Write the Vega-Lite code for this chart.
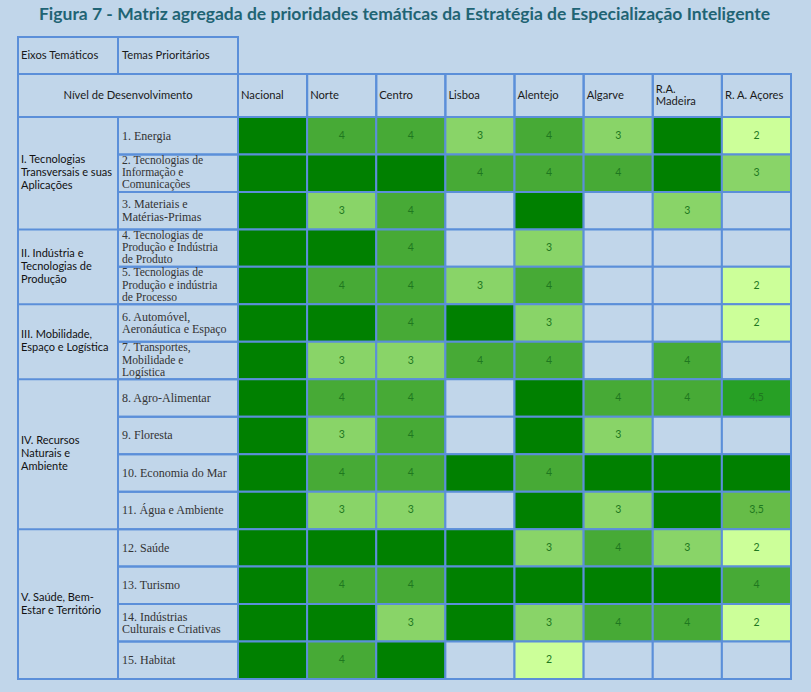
{
  "$schema": "https://vega.github.io/schema/vega-lite/v6.json",
  "background": "#c1d6ea",
  "padding": {"left": 16, "top": 5, "right": 22, "bottom": 12},
  "title": {"text": "Figura 7 - Matriz agregada de prioridades temáticas da Estratégia de Especialização Inteligente", "font": "Lato", "fontSize": 17.5, "fontWeight": "bold", "color": "#1f6474", "anchor": "middle", "offset": 13},
  "config": {"view": {"stroke": "#5b8fd9", "strokeWidth": 2}, "concat": {"spacing": 0}},
  "spacing": 0,
  "bounds": "flush",
  "columns": 3,
  "datasets": {
    "temas": [
      {"n": 1, "tema": "1. Energia", "eixo": "I. Tecnologias\nTransversais e suas\nAplicações"},
      {"n": 2, "tema": "2. Tecnologias de\nInformação e\nComunicações", "eixo": "I. Tecnologias\nTransversais e suas\nAplicações"},
      {"n": 3, "tema": "3. Materiais e\nMatérias-Primas", "eixo": "I. Tecnologias\nTransversais e suas\nAplicações"},
      {"n": 4, "tema": "4. Tecnologias de\nProdução e Indústria\nde Produto", "eixo": "II. Indústria e\nTecnologias de\nProdução"},
      {"n": 5, "tema": "5. Tecnologias de\nProdução e indústria\nde Processo", "eixo": "II. Indústria e\nTecnologias de\nProdução"},
      {"n": 6, "tema": "6. Automóvel,\nAeronáutica e Espaço", "eixo": "III. Mobilidade,\nEspaço e Logística"},
      {"n": 7, "tema": "7. Transportes,\nMobilidade e\nLogística", "eixo": "III. Mobilidade,\nEspaço e Logística"},
      {"n": 8, "tema": "8. Agro-Alimentar", "eixo": "IV. Recursos\nNaturais e\nAmbiente"},
      {"n": 9, "tema": "9. Floresta", "eixo": "IV. Recursos\nNaturais e\nAmbiente"},
      {"n": 10, "tema": "10. Economia do Mar", "eixo": "IV. Recursos\nNaturais e\nAmbiente"},
      {"n": 11, "tema": "11. Água e Ambiente", "eixo": "IV. Recursos\nNaturais e\nAmbiente"},
      {"n": 12, "tema": "12. Saúde", "eixo": "V. Saúde, Bem-\nEstar e Território"},
      {"n": 13, "tema": "13. Turismo", "eixo": "V. Saúde, Bem-\nEstar e Território"},
      {"n": 14, "tema": "14. Indústrias\nCulturais e Criativas", "eixo": "V. Saúde, Bem-\nEstar e Território"},
      {"n": 15, "tema": "15. Habitat", "eixo": "V. Saúde, Bem-\nEstar e Território"}
    ],
    "regioes": [
      {"r": "Nacional", "lbl": "Nacional"},
      {"r": "Norte", "lbl": "Norte"},
      {"r": "Centro", "lbl": "Centro"},
      {"r": "Lisboa", "lbl": "Lisboa"},
      {"r": "Alentejo", "lbl": "Alentejo"},
      {"r": "Algarve", "lbl": "Algarve"},
      {"r": "R.A. Madeira", "lbl": "R.A.\nMadeira"},
      {"r": "R. A. Açores", "lbl": "R. A. Açores"}
    ],
    "cells": [
      {"t": 1, "r": "Nacional", "v": "5"}, {"t": 1, "r": "Norte", "v": "4"}, {"t": 1, "r": "Centro", "v": "4"}, {"t": 1, "r": "Lisboa", "v": "3"}, {"t": 1, "r": "Alentejo", "v": "4"}, {"t": 1, "r": "Algarve", "v": "3"}, {"t": 1, "r": "R.A. Madeira", "v": "5"}, {"t": 1, "r": "R. A. Açores", "v": "2"},
      {"t": 2, "r": "Nacional", "v": "5"}, {"t": 2, "r": "Norte", "v": "5"}, {"t": 2, "r": "Centro", "v": "5"}, {"t": 2, "r": "Lisboa", "v": "4"}, {"t": 2, "r": "Alentejo", "v": "4"}, {"t": 2, "r": "Algarve", "v": "4"}, {"t": 2, "r": "R.A. Madeira", "v": "5"}, {"t": 2, "r": "R. A. Açores", "v": "3"},
      {"t": 3, "r": "Nacional", "v": "5"}, {"t": 3, "r": "Norte", "v": "3"}, {"t": 3, "r": "Centro", "v": "4"}, {"t": 3, "r": "Lisboa", "v": ""}, {"t": 3, "r": "Alentejo", "v": "5"}, {"t": 3, "r": "Algarve", "v": ""}, {"t": 3, "r": "R.A. Madeira", "v": "3"}, {"t": 3, "r": "R. A. Açores", "v": ""},
      {"t": 4, "r": "Nacional", "v": "5"}, {"t": 4, "r": "Norte", "v": "5"}, {"t": 4, "r": "Centro", "v": "4"}, {"t": 4, "r": "Lisboa", "v": ""}, {"t": 4, "r": "Alentejo", "v": "3"}, {"t": 4, "r": "Algarve", "v": ""}, {"t": 4, "r": "R.A. Madeira", "v": ""}, {"t": 4, "r": "R. A. Açores", "v": ""},
      {"t": 5, "r": "Nacional", "v": "5"}, {"t": 5, "r": "Norte", "v": "4"}, {"t": 5, "r": "Centro", "v": "4"}, {"t": 5, "r": "Lisboa", "v": "3"}, {"t": 5, "r": "Alentejo", "v": "4"}, {"t": 5, "r": "Algarve", "v": ""}, {"t": 5, "r": "R.A. Madeira", "v": ""}, {"t": 5, "r": "R. A. Açores", "v": "2"},
      {"t": 6, "r": "Nacional", "v": "5"}, {"t": 6, "r": "Norte", "v": "5"}, {"t": 6, "r": "Centro", "v": "4"}, {"t": 6, "r": "Lisboa", "v": "5"}, {"t": 6, "r": "Alentejo", "v": "3"}, {"t": 6, "r": "Algarve", "v": ""}, {"t": 6, "r": "R.A. Madeira", "v": ""}, {"t": 6, "r": "R. A. Açores", "v": "2"},
      {"t": 7, "r": "Nacional", "v": "5"}, {"t": 7, "r": "Norte", "v": "3"}, {"t": 7, "r": "Centro", "v": "3"}, {"t": 7, "r": "Lisboa", "v": "4"}, {"t": 7, "r": "Alentejo", "v": "4"}, {"t": 7, "r": "Algarve", "v": ""}, {"t": 7, "r": "R.A. Madeira", "v": "4"}, {"t": 7, "r": "R. A. Açores", "v": ""},
      {"t": 8, "r": "Nacional", "v": "5"}, {"t": 8, "r": "Norte", "v": "4"}, {"t": 8, "r": "Centro", "v": "4"}, {"t": 8, "r": "Lisboa", "v": ""}, {"t": 8, "r": "Alentejo", "v": "5"}, {"t": 8, "r": "Algarve", "v": "4"}, {"t": 8, "r": "R.A. Madeira", "v": "4"}, {"t": 8, "r": "R. A. Açores", "v": "4,5"},
      {"t": 9, "r": "Nacional", "v": "5"}, {"t": 9, "r": "Norte", "v": "3"}, {"t": 9, "r": "Centro", "v": "4"}, {"t": 9, "r": "Lisboa", "v": ""}, {"t": 9, "r": "Alentejo", "v": "5"}, {"t": 9, "r": "Algarve", "v": "3"}, {"t": 9, "r": "R.A. Madeira", "v": ""}, {"t": 9, "r": "R. A. Açores", "v": ""},
      {"t": 10, "r": "Nacional", "v": "5"}, {"t": 10, "r": "Norte", "v": "4"}, {"t": 10, "r": "Centro", "v": "4"}, {"t": 10, "r": "Lisboa", "v": "5"}, {"t": 10, "r": "Alentejo", "v": "4"}, {"t": 10, "r": "Algarve", "v": "5"}, {"t": 10, "r": "R.A. Madeira", "v": "5"}, {"t": 10, "r": "R. A. Açores", "v": "5"},
      {"t": 11, "r": "Nacional", "v": "5"}, {"t": 11, "r": "Norte", "v": "3"}, {"t": 11, "r": "Centro", "v": "3"}, {"t": 11, "r": "Lisboa", "v": ""}, {"t": 11, "r": "Alentejo", "v": "5"}, {"t": 11, "r": "Algarve", "v": "3"}, {"t": 11, "r": "R.A. Madeira", "v": "5"}, {"t": 11, "r": "R. A. Açores", "v": "3,5"},
      {"t": 12, "r": "Nacional", "v": "5"}, {"t": 12, "r": "Norte", "v": "5"}, {"t": 12, "r": "Centro", "v": "5"}, {"t": 12, "r": "Lisboa", "v": "5"}, {"t": 12, "r": "Alentejo", "v": "3"}, {"t": 12, "r": "Algarve", "v": "4"}, {"t": 12, "r": "R.A. Madeira", "v": "3"}, {"t": 12, "r": "R. A. Açores", "v": "2"},
      {"t": 13, "r": "Nacional", "v": "5"}, {"t": 13, "r": "Norte", "v": "4"}, {"t": 13, "r": "Centro", "v": "4"}, {"t": 13, "r": "Lisboa", "v": "5"}, {"t": 13, "r": "Alentejo", "v": "5"}, {"t": 13, "r": "Algarve", "v": "5"}, {"t": 13, "r": "R.A. Madeira", "v": "5"}, {"t": 13, "r": "R. A. Açores", "v": "4"},
      {"t": 14, "r": "Nacional", "v": "5"}, {"t": 14, "r": "Norte", "v": "5"}, {"t": 14, "r": "Centro", "v": "3"}, {"t": 14, "r": "Lisboa", "v": "5"}, {"t": 14, "r": "Alentejo", "v": "3"}, {"t": 14, "r": "Algarve", "v": "4"}, {"t": 14, "r": "R.A. Madeira", "v": "4"}, {"t": 14, "r": "R. A. Açores", "v": "2"},
      {"t": 15, "r": "Nacional", "v": "5"}, {"t": 15, "r": "Norte", "v": "4"}, {"t": 15, "r": "Centro", "v": "5"}, {"t": 15, "r": "Lisboa", "v": ""}, {"t": 15, "r": "Alentejo", "v": "2"}, {"t": 15, "r": "Algarve", "v": ""}, {"t": 15, "r": "R.A. Madeira", "v": ""}, {"t": 15, "r": "R. A. Açores", "v": ""}
    ]
  },
  "concat": [
    {
      "width": 100, "height": 37,
      "data": {"values": [{"h": "Eixos Temáticos"}]},
      "mark": {"type": "text", "align": "left", "dx": 3, "font": "Lato", "fontSize": 11.2, "color": "#1a1a1a"},
      "encoding": {"text": {"field": "h"}, "x": {"datum": 0, "type": "quantitative", "scale": {"domain": [0, 1]}, "axis": null}}
    },
    {
      "width": 120, "height": 37,
      "data": {"values": [{"h": "Temas Prioritários"}]},
      "mark": {"type": "text", "align": "left", "dx": 4, "font": "Lato", "fontSize": 11.2, "color": "#1a1a1a"},
      "encoding": {"text": {"field": "h"}, "x": {"datum": 0, "type": "quantitative", "scale": {"domain": [0, 1]}, "axis": null}}
    },
    {
      "width": 553, "height": 37,
      "data": {"values": [{"h": ""}]},
      "mark": {"type": "text"},
      "encoding": {"text": {"field": "h"}}
    },
    {
      "width": 100, "height": 43,
      "view": {"stroke": null},
      "data": {"values": [{"h": "Nível de Desenvolvimento"}]},
      "layer": [
        {
          "mark": {"type": "rect", "fill": "transparent", "stroke": "#5b8fd9", "strokeWidth": 2},
          "encoding": {
            "x": {"datum": 0, "type": "quantitative", "scale": {"domain": [0, 1]}, "axis": null},
            "x2": {"datum": 2.2}
          }
        },
        {
          "mark": {"type": "text", "align": "center", "baseline": "middle", "font": "Lato", "fontSize": 11.2, "color": "#1a1a1a"},
          "encoding": {
            "x": {"datum": 1.1, "type": "quantitative", "axis": null},
            "text": {"field": "h"}
          }
        }
      ]
    },
    {
      "width": 120, "height": 43,
      "view": {"stroke": null},
      "data": {"values": [{"h": ""}]},
      "mark": {"type": "text"},
      "encoding": {"text": {"field": "h"}}
    },
    {
      "width": 553, "height": 43,
      "data": {"name": "regioes"},
      "layer": [
        {
          "mark": {"type": "rect", "fill": "transparent", "stroke": "#5b8fd9", "strokeWidth": 2},
          "encoding": {
            "x": {"field": "r", "type": "nominal", "sort": null, "scale": {"paddingInner": 0, "paddingOuter": 0}, "axis": null}
          }
        },
        {
          "transform": [{"filter": "indexof(datum.lbl, '\\n') < 0"}],
          "mark": {"type": "text", "align": "left", "baseline": "middle", "dx": 3, "font": "Lato", "fontSize": 11.2, "color": "#1a1a1a"},
          "encoding": {
            "x": {"field": "r", "type": "nominal", "sort": null, "bandPosition": 0, "axis": null},
            "text": {"field": "lbl"}
          }
        },
        {
          "transform": [{"filter": "indexof(datum.lbl, '\\n') >= 0"}],
          "mark": {"type": "text", "align": "left", "baseline": "middle", "dx": 3, "dy": -6, "font": "Lato", "fontSize": 11.2, "lineBreak": "\n", "lineHeight": 12, "color": "#1a1a1a"},
          "encoding": {
            "x": {"field": "r", "type": "nominal", "sort": null, "bandPosition": 0, "axis": null},
            "text": {"field": "lbl"}
          }
        }
      ]
    },
    {
      "width": 100, "height": 562,
      "data": {"name": "temas"},
      "layer": [
        {
          "transform": [
            {"joinaggregate": [{"op": "max", "field": "n", "as": "hi"}], "groupby": ["eixo"]},
            {"filter": "datum.n == datum.hi"}
          ],
          "mark": {"type": "rule", "stroke": "#5b8fd9", "strokeWidth": 2},
          "encoding": {
            "y": {"field": "n", "type": "quantitative", "scale": {"domain": [0, 15], "reverse": true, "nice": false, "zero": false}, "axis": null}
          }
        },
        {
          "transform": [
            {"aggregate": [{"op": "mean", "field": "n", "as": "m"}], "groupby": ["eixo"]},
            {"filter": "length(split(datum.eixo, '\\n')) == 3"}
          ],
          "mark": {"type": "text", "align": "left", "baseline": "middle", "dx": 3, "dy": -13, "font": "Lato", "fontSize": 11, "lineBreak": "\n", "lineHeight": 13, "color": "#111111"},
          "encoding": {
            "y": {"field": "m", "type": "quantitative", "scale": {"domain": [0.5, 15.5], "reverse": true, "nice": false, "zero": false}, "axis": null},
            "x": {"datum": 0, "type": "quantitative", "scale": {"domain": [0, 1]}, "axis": null},
            "text": {"field": "eixo"}
          }
        },
        {
          "transform": [
            {"aggregate": [{"op": "mean", "field": "n", "as": "m"}], "groupby": ["eixo"]},
            {"filter": "length(split(datum.eixo, '\\n')) == 2"}
          ],
          "mark": {"type": "text", "align": "left", "baseline": "middle", "dx": 3, "dy": -6.5, "font": "Lato", "fontSize": 11, "lineBreak": "\n", "lineHeight": 13, "color": "#111111"},
          "encoding": {
            "y": {"field": "m", "type": "quantitative", "scale": {"domain": [0.5, 15.5], "reverse": true, "nice": false, "zero": false}, "axis": null},
            "x": {"datum": 0, "type": "quantitative", "scale": {"domain": [0, 1]}, "axis": null},
            "text": {"field": "eixo"}
          }
        }
      ],
      "resolve": {"scale": {"y": "independent"}}
    },
    {
      "width": 120, "height": 562,
      "data": {"name": "temas"},
      "layer": [
        {
          "mark": {"type": "rect", "fill": "transparent", "stroke": "#5b8fd9", "strokeWidth": 2},
          "encoding": {
            "y": {"field": "n", "type": "ordinal", "scale": {"paddingInner": 0, "paddingOuter": 0}, "axis": null}
          }
        },
        {
          "transform": [{"filter": "length(split(datum.tema, '\\n')) == 1"}],
          "mark": {"type": "text", "align": "left", "baseline": "middle", "dx": 4, "font": "Liberation Serif", "fontSize": 12, "color": "#333333"},
          "encoding": {
            "y": {"field": "n", "type": "ordinal", "axis": null},
            "x": {"datum": 0, "type": "quantitative", "scale": {"domain": [0, 1]}, "axis": null},
            "text": {"field": "tema"}
          }
        },
        {
          "transform": [{"filter": "length(split(datum.tema, '\\n')) == 2"}],
          "mark": {"type": "text", "align": "left", "baseline": "middle", "dx": 4, "dy": -6.2, "font": "Liberation Serif", "fontSize": 12, "lineBreak": "\n", "lineHeight": 12.4, "color": "#333333"},
          "encoding": {
            "y": {"field": "n", "type": "ordinal", "axis": null},
            "x": {"datum": 0, "type": "quantitative", "axis": null},
            "text": {"field": "tema"}
          }
        },
        {
          "transform": [{"filter": "length(split(datum.tema, '\\n')) == 3"}],
          "mark": {"type": "text", "align": "left", "baseline": "middle", "dx": 4, "dy": -12.2, "font": "Liberation Serif", "fontSize": 11.6, "lineBreak": "\n", "lineHeight": 12.2, "color": "#333333"},
          "encoding": {
            "y": {"field": "n", "type": "ordinal", "axis": null},
            "x": {"datum": 0, "type": "quantitative", "axis": null},
            "text": {"field": "tema"}
          }
        }
      ]
    },
    {
      "width": 553, "height": 562,
      "data": {"name": "cells"},
      "layer": [
        {
          "mark": {"type": "rect", "stroke": "#5b8fd9", "strokeWidth": 2},
          "encoding": {
            "x": {"field": "r", "type": "nominal", "scale": {"domain": ["Nacional", "Norte", "Centro", "Lisboa", "Alentejo", "Algarve", "R.A. Madeira", "R. A. Açores"], "paddingInner": 0, "paddingOuter": 0}, "axis": null},
            "y": {"field": "t", "type": "ordinal", "scale": {"paddingInner": 0, "paddingOuter": 0}, "axis": null},
            "fill": {"field": "v", "type": "nominal", "scale": {"domain": ["5", "4,5", "4", "3,5", "3", "2", ""], "range": ["#008000", "#27a025", "#47aa36", "#66bc48", "#89d468", "#ccff99", "#c1d6ea"]}, "legend": null}
          }
        },
        {
          "transform": [{"filter": "datum.v != '5' && datum.v != ''"}],
          "mark": {"type": "text", "font": "Lato", "fontSize": 10.5, "color": "#1f781f"},
          "encoding": {
            "x": {"field": "r", "type": "nominal", "axis": null},
            "y": {"field": "t", "type": "ordinal", "axis": null},
            "text": {"field": "v"}
          }
        }
      ]
    }
  ]
}
